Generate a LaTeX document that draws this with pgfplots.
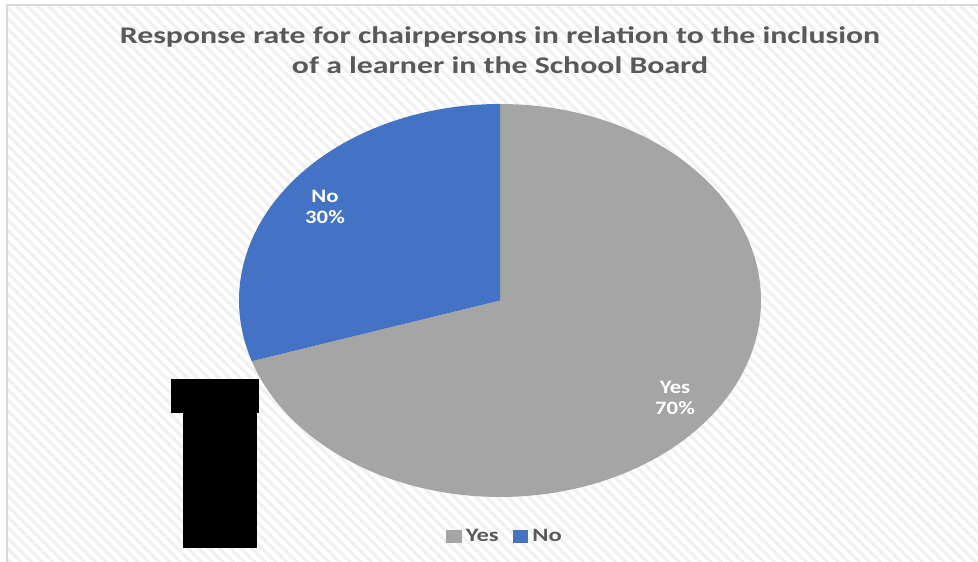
\documentclass[border=0pt]{standalone}
\usepackage{graphicx}
\usepackage{pgfplots}
\usepackage{pgfplotstable}
\pgfplotsset{compat=1.18}
\usetikzlibrary{patterns.meta}
\usepackage{fontspec}
\setmainfont{Carlito}
\definecolor{yesgray}{HTML}{A5A5A5}
\definecolor{noblue}{HTML}{4472C4}
\definecolor{txtgray}{HTML}{595959}
\definecolor{framegray}{HTML}{D9D9D9}

\pgfplotstableread{
label value
Yes 70
No 30
}\piedata
\pgfplotstablegetelem{0}{value}\of\piedata \let\yesval\pgfplotsretval
\pgfplotstablegetelem{1}{value}\of\piedata \let\noval\pgfplotsretval
\pgfmathsetmacro\nostart{90}
\pgfmathsetmacro\noend{90+3.6*\noval}
\pgfmathsetmacro\yesend{\noend+3.6*\yesval}
\newcommand{\wide}[2][1.2]{\scalebox{#1}[1]{#2}}

\begin{document}
\begin{tikzpicture}[x=1bp,y=1bp]
\useasboundingbox (0,0) rectangle (978,562);
\fill[white] (0,0) rectangle (978,562);
\fill[pattern={Lines[angle=-45,distance=7.5bp,line width=3bp]},pattern color=black!6] (7,0) rectangle (978,557);
\draw[framegray,line width=2bp] (7,0) -- (7,557) -- (978,557);
\begin{axis}[
  at={(0,0)}, anchor=south west,
  scale only axis, width=978bp, height=562bp,
  xmin=0, xmax=978, ymin=0, ymax=562,
  hide axis, clip=false,
  legend style={at={(axis cs:504,25.5)}, anchor=center, draw=none, fill=none,
    font=\bfseries\fontsize{19}{22}\selectfont\color{txtgray}, legend columns=2,
    inner xsep=0pt, inner ysep=0pt,
    nodes={inner xsep=0bp},
    /tikz/every even column/.append style={column sep=14bp}},
  legend image code/.code={\fill[#1,draw=none] (0bp,-6.3bp) rectangle (15.5bp,6.3bp);},
]
\addplot[draw=none, fill=yesgray, domain=\noend:\yesend, samples=200]
  ({500+261*cos(x)},{261.5+196.5*sin(x)}) -- (axis cs:500,261.5) -- cycle;
\addplot[draw=none, fill=noblue, domain=\nostart:\noend, samples=100]
  ({500+261*cos(x)},{261.5+196.5*sin(x)}) -- (axis cs:500,261.5) -- cycle;
\legend{\hspace*{4bp}\wide[1.3]{Yes},\hspace*{4bp}\wide[1.3]{No}}
\node[align=center, text=white, font=\bfseries\fontsize{19}{21.5}\selectfont] at (axis cs:325,355) {\wide{No}\\\wide{\noval\%}};
\node[align=center, text=white, font=\bfseries\fontsize{19}{21}\selectfont] at (axis cs:675,164) {\wide{Yes}\\\wide{\yesval\%}};
\node[anchor=base, text=txtgray, font=\bfseries\fontsize{24}{29}\selectfont] at (axis cs:500,518) {\wide[1.33]{Response rate for chairpersons in relation to the inclusion}};
\node[anchor=base, text=txtgray, font=\bfseries\fontsize{24}{29}\selectfont] at (axis cs:500,488) {\wide[1.33]{of a learner in the School Board}};
\end{axis}
\fill[black] (171,149) rectangle (259,183);
\fill[black] (183,14) rectangle (257,149);
\end{tikzpicture}
\end{document}
